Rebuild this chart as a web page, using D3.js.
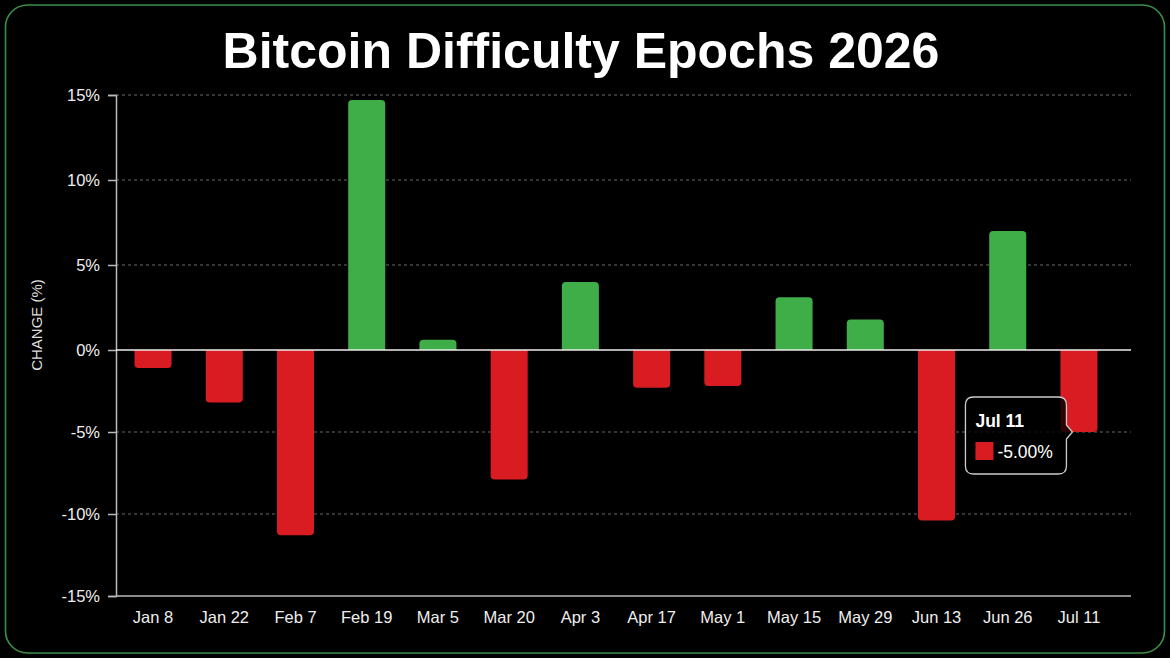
<!DOCTYPE html>
<html>
<head>
<meta charset="utf-8">
<script src="https://cdn.jsdelivr.net/npm/d3@7"></script>
<style>
  html, body { margin: 0; padding: 0; background: #000; }
  svg { display: block; }
  text { font-family: "Liberation Sans", Arial, sans-serif; }
</style>
</head>
<body>
<div id="chart"></div>
<script>
// epoch dates and difficulty change (%)
const epochs = ["Jan 8", "Jan 22", "Feb 7", "Feb 19", "Mar 5", "Mar 20", "Apr 3",
  "Apr 17", "May 1", "May 15", "May 29", "Jun 13", "Jun 26", "Jul 11"];
const changes = [-1.1, -3.2, -11.3, 14.7, 0.6, -7.9, 4.0, -2.3, -2.2, 3.1, 1.8, -10.4, 7.0, -5.0];
const yTicks = [-15, -10, -5, 0, 5, 10, 15];
const tooltipIndex = 13;

const width = 1170, height = 658;
const plot = { left: 116, right: 1131, top: 95, bottom: 596 };

const green = "#3fae49", red = "#d81c21";

const svg = d3.select("#chart").append("svg")
  .attr("width", width)
  .attr("height", height);

svg.append("rect")
  .attr("width", width).attr("height", height)
  .attr("fill", "#000");

// green frame
svg.append("rect")
  .attr("x", 5.5).attr("y", 5)
  .attr("width", width - 11).attr("height", height - 10)
  .attr("rx", 22)
  .attr("fill", "none")
  .attr("stroke", "#3b8f47")
  .attr("stroke-width", 1.6);

svg.append("text")
  .attr("x", 581)
  .attr("y", 68)
  .attr("text-anchor", "middle")
  .attr("fill", "#fff")
  .style("font-weight", 700)
  .style("font-size", "50px")
  .text("Bitcoin Difficulty Epochs 2026");

var x = d3.scaleBand()
  .domain(epochs)
  .range([plot.left, 1116])
  .paddingInner(0.48)
  .paddingOuter(0.26);

// zero sits a little below the middle in the original
var y = d3.scaleLinear()
  .domain([-15, 0, 15])
  .range([plot.bottom, 350, plot.top]);

// grid
svg.append("g")
  .selectAll("line")
  .data(yTicks.filter(d => d !== 0 && d !== -15))
  .enter()
  .append("line")
  .attr("x1", plot.left)
  .attr("x2", plot.right)
  .attr("y1", d => y(d))
  .attr("y2", d => y(d))
  .attr("stroke", "#6a6a6a")
  .attr("stroke-dasharray", "3,3");

// y axis
var yAxis = svg.append("g")
  .attr("transform", `translate(${plot.left},0)`)
  .call(d3.axisLeft(y).tickValues(yTicks).tickSize(8).tickPadding(8).tickFormat(d => d + "%"));
yAxis.select(".domain").attr("stroke", "#bbb").attr("stroke-width", 1.5);
yAxis.selectAll(".tick line").attr("stroke", "#bbb").attr("stroke-width", 1.5);
yAxis.selectAll(".tick text")
  .attr("fill", "#eee")
  .style("font-size", "16.5px")
  .style("font-family", "'Liberation Sans', Arial, sans-serif");

// x axis
var xAxis = svg.append("g")
  .attr("transform", `translate(0,${plot.bottom})`)
  .call(d3.axisBottom(x).tickSize(0).tickPadding(15));
xAxis.select(".domain").remove();
xAxis.selectAll(".tick text")
  .attr("fill", "#eee")
  .style("font-size", "16.5px")
  .style("font-family", "'Liberation Sans', Arial, sans-serif");

svg.append("line")
  .attr("x1", plot.left)
  .attr("x2", plot.right)
  .attr("y1", plot.bottom)
  .attr("y2", plot.bottom)
  .attr("stroke", "#bbb")
  .attr("stroke-width", 1.5);

svg.append("text")
  .attr("transform", "translate(42,325) rotate(-90)")
  .attr("text-anchor", "middle")
  .attr("fill", "#ddd")
  .style("font-size", "15px")
  .text("CHANGE (%)");

// bars, rounded only at the outer end
function barPath(d, i) {
  var x0 = x(epochs[i]), w = x.bandwidth();
  var y0 = y(0), y1 = y(d);
  var r = Math.min(4, Math.abs(y1 - y0) / 2);
  var s = d >= 0 ? 1 : -1;
  return `M${x0},${y0}` +
    `V${y1 + s * r}` +
    `Q${x0},${y1} ${x0 + r},${y1}` +
    `H${x0 + w - r}` +
    `Q${x0 + w},${y1} ${x0 + w},${y1 + s * r}` +
    `V${y0}Z`;
}

svg.append("g")
  .selectAll("path")
  .data(changes)
  .enter()
  .append("path")
  .attr("d", barPath)
  .attr("fill", d => d >= 0 ? green : red);

// zero line
svg.append("line")
  .attr("x1", plot.left)
  .attr("x2", plot.right)
  .attr("y1", y(0))
  .attr("y2", y(0))
  .attr("stroke", "#eee")
  .attr("stroke-width", 1.5);

// tooltip for the last epoch
var tv = changes[tooltipIndex];
var barLeft = x(epochs[tooltipIndex]);
var tx = barLeft + 12, ty = y(tv);
var bw = 101, bh = 77, bx = barLeft + 6 - bw, by = ty - 35;
var tip = svg.append("g");
tip.append("path")
  .attr("d", `M${bx + 8},${by} H${bx + bw - 8} Q${bx + bw},${by} ${bx + bw},${by + 8}` +
    `V${ty - 7} L${tx},${ty} L${bx + bw},${ty + 7}` +
    `V${by + bh - 8} Q${bx + bw},${by + bh} ${bx + bw - 8},${by + bh}` +
    `H${bx + 8} Q${bx},${by + bh} ${bx},${by + bh - 8}` +
    `V${by + 8} Q${bx},${by} ${bx + 8},${by}Z`)
  .attr("fill", "rgba(0,0,0,0.8)")
  .attr("stroke", "#ccc")
  .attr("stroke-width", 1.3);
tip.append("text")
  .attr("x", bx + 10).attr("y", by + 30)
  .attr("fill", "#fff")
  .style("font-size", "17.5px")
  .style("font-weight", 700)
  .text(epochs[tooltipIndex]);
tip.append("rect")
  .attr("x", bx + 10).attr("y", by + 45)
  .attr("width", 18).attr("height", 18)
  .attr("fill", tv >= 0 ? green : red);
tip.append("text")
  .attr("x", bx + 32).attr("y", by + 61)
  .attr("fill", "#fff")
  .style("font-size", "17.5px")
  .text(tv.toFixed(2) + "%");
</script>
</body>
</html>
